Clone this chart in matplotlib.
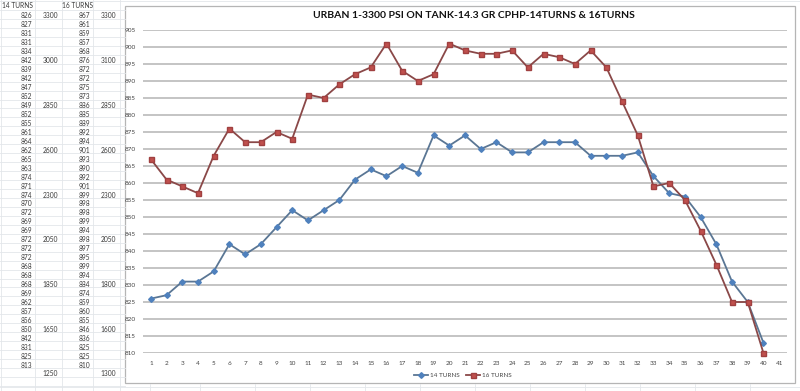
import matplotlib.pyplot as plt
from matplotlib.lines import Line2D
from matplotlib.patches import Rectangle

turns14 = [826, 827, 831, 831, 834, 842, 839, 842, 847, 852, 849, 852, 855, 861, 864,
           862, 865, 863, 874, 871, 874, 870, 872, 869, 869, 872, 872, 872, 868, 868,
           868, 869, 862, 857, 856, 850, 842, 831, 825, 813]
turns16 = [867, 861, 859, 857, 868, 876, 872, 872, 875, 873, 886, 885, 889, 892, 894,
           901, 893, 890, 892, 901, 899, 898, 898, 899, 894, 898, 897, 895, 899, 894,
           884, 874, 859, 860, 855, 846, 836, 825, 825, 810]
# pressure notes in the sheet (row index -> psi)
psi_rows = [0, 5, 10, 15, 20, 25, 30, 35, 40]
psi14 = [3300, 3000, 2850, 2600, 2300, 2050, 1850, 1650, 1250]
psi16 = [3300, 3100, 2850, 2600, 2300, 2050, 1800, 1600, 1300]
shots = list(range(1, 41))
categories = list(range(1, 42))

W, H = 800, 391
fig = plt.figure(figsize=(W / 100, H / 100), dpi=100)
plt.rcParams['font.family'] = ['Lato', 'DejaVu Sans']


def fx(px):
    return px / W


def fy(py):
    return 1 - py / H


# spreadsheet grid on the left
grid_c = '#e3e6ea'
row_h = 8.95
for i in range(44):
    y = 10 + i * row_h
    fig.add_artist(Line2D([0, fx(125)], [fy(y), fy(y)], color=grid_c, lw=0.6))
for x in [0.5, 35, 62, 93, 120]:
    fig.add_artist(Line2D([fx(x), fx(x)], [0, 1], color=grid_c, lw=0.6))
for x in [150, 200, 255, 310, 365, 420, 475, 530, 585, 640, 695, 750]:
    fig.add_artist(Line2D([fx(x), fx(x)], [0, fy(384)], color=grid_c, lw=0.6))
fig.add_artist(Line2D([0, 1], [fy(387), fy(387)], color=grid_c, lw=0.6))
fig.add_artist(Line2D([0, 1], [fy(1), fy(1)], color=grid_c, lw=0.6))

cell_font = dict(fontsize=4.8, color='#3a3a3a', va='center')
fig.text(fx(2), fy(5), '14 TURNS', ha='left', **cell_font)
fig.text(fx(62), fy(5), '16 TURNS', ha='left', **cell_font)
for i in range(40):
    y = fy(16 + i * row_h)
    fig.text(fx(32), y, str(turns14[i]), ha='right', **cell_font)
    fig.text(fx(90), y, str(turns16[i]), ha='right', **cell_font)
for r, a, b in zip(psi_rows, psi14, psi16):
    y = fy(16 + r * row_h)
    fig.text(fx(58), y, str(a), ha='right', **cell_font)
    fig.text(fx(116), y, str(b), ha='right', **cell_font)

# chart frame
fig.add_artist(Rectangle((fx(125), fy(383)), fx(795) - fx(125), fy(6) - fy(383),
                         facecolor='white', edgecolor='#b5b5b5', lw=0.9, zorder=1))

ax = fig.add_axes([fx(143), fy(353), fx(787) - fx(143), fy(30) - fy(353)])
ax.set_zorder(2)
ax.patch.set_alpha(0)

ax.plot(shots, turns14, color='#5a7694', lw=1.3, marker='D', ms=2.9,
        mfc='#4f81bd', mec='#4f81bd', label='14 TURNS', clip_on=False)
ax.plot(shots, turns16, color='#8a4848', lw=1.3, marker='s', ms=3.6,
        mfc='#c0504d', mec='#a04040', label='16 TURNS', clip_on=False)

ax.set_xlim(0.5, 41.5)
ax.set_ylim(810, 905)
ax.set_yticks(range(810, 906, 5))
ax.set_xticks(categories)
ax.yaxis.grid(True, color='#b4b4b4', lw=1.1)
ax.set_axisbelow(True)
for s in ax.spines.values():
    s.set_visible(False)
ax.tick_params(axis='both', length=0, labelsize=4.6, colors='#444444')
ax.tick_params(axis='y', pad=5)
ax.tick_params(axis='x', pad=6)

fig.text(fx(474), fy(16), 'URBAN 1-3300 PSI ON TANK-14.3 GR CPHP-14TURNS & 16TURNS',
         ha='center', va='center', fontsize=7.5, fontweight='bold', color='#111111')

ax.legend(loc='center', bbox_to_anchor=((fx(463) - fx(143)) / (fx(787) - fx(143)),
                                        (fy(375) - fy(353)) / (fy(30) - fy(353))),
          ncol=2, frameon=False, fontsize=4.6, handlelength=2.2, columnspacing=1.0,
          handletextpad=0.3, labelcolor='#444444')

fig.savefig('out.png', dpi=100, facecolor='white')
